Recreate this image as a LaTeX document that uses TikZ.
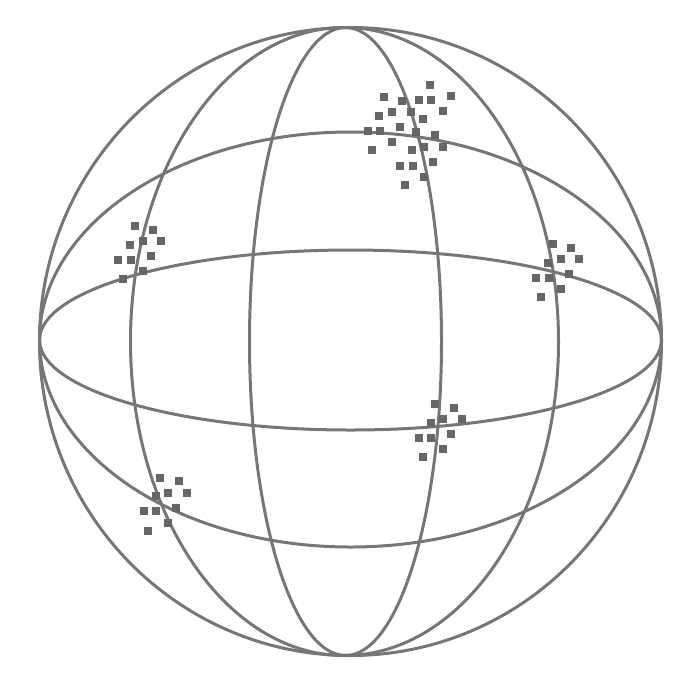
\documentclass[tikz,border=0pt]{standalone}
\usepackage{xcolor}
\definecolor{wireGray}{RGB}{118,118,118}
\definecolor{dotGray}{RGB}{102,102,102}
\tikzset{
  wireLine/.style={draw=wireGray,line width=3pt},
  gridDot/.style={fill=dotGray}
}
\newcommand{\GridDot}[2]{\fill[gridDot] (#1-4,#2-4) rectangle (#1+4,#2+4);}
\newcommand{\SmallCluster}[2]{%
\foreach \dx/\dy in {0/0,18.5/3.5,-4.5/18.5,8/15,26.5/15,-16.5/33.5,-3.7/33.5,16/30,8/45,-12/53}{
  \GridDot{#1+\dx}{#2+\dy}
}}

\begin{document}
\begin{tikzpicture}[x=1pt,y=-1pt]
\useasboundingbox (0,0) rectangle (698,678);
% outline
\draw[wireLine] (350.5,341.5) ellipse [x radius=311pt,y radius=314pt];
% meridians
\draw[wireLine] (345.5,341.5) ellipse [x radius=96pt,y radius=314pt];
\draw[wireLine] (344.5,341.5) ellipse [x radius=214pt,y radius=314pt];
% parallels
\draw[wireLine] (350.5,340) ellipse [x radius=311pt,y radius=90pt];
\draw[wireLine] (39.5,340) arc [start angle=180,end angle=360,x radius=311pt,y radius=207pt];
\draw[wireLine] (39.5,340) arc [start angle=180,end angle=0,x radius=311pt,y radius=208pt];
% clusters
\SmallCluster{134.5}{226}
\SmallCluster{552.5}{244}
\SmallCluster{435}{404}
\SmallCluster{160}{477.5}
\foreach \px/\py in {430/84.7,451/96,384/97.3,402.3/100.7,418.7/99.7,431.3/99.7,379.3/115.7,392/112.3,410.7/112.3,443/111,423.3/119.3,400/127.3,367.7/130.7,380.3/130.7,416.3/132,434.7/135.3,392/142.3,424.3/147,443/147,372.3/150.3,411.7/150.3,432.7/162,400/165.7,413/165.7,424.3/177,404.7/185.3}{
  \GridDot{\px}{\py}
}
\end{tikzpicture}
\end{document}
